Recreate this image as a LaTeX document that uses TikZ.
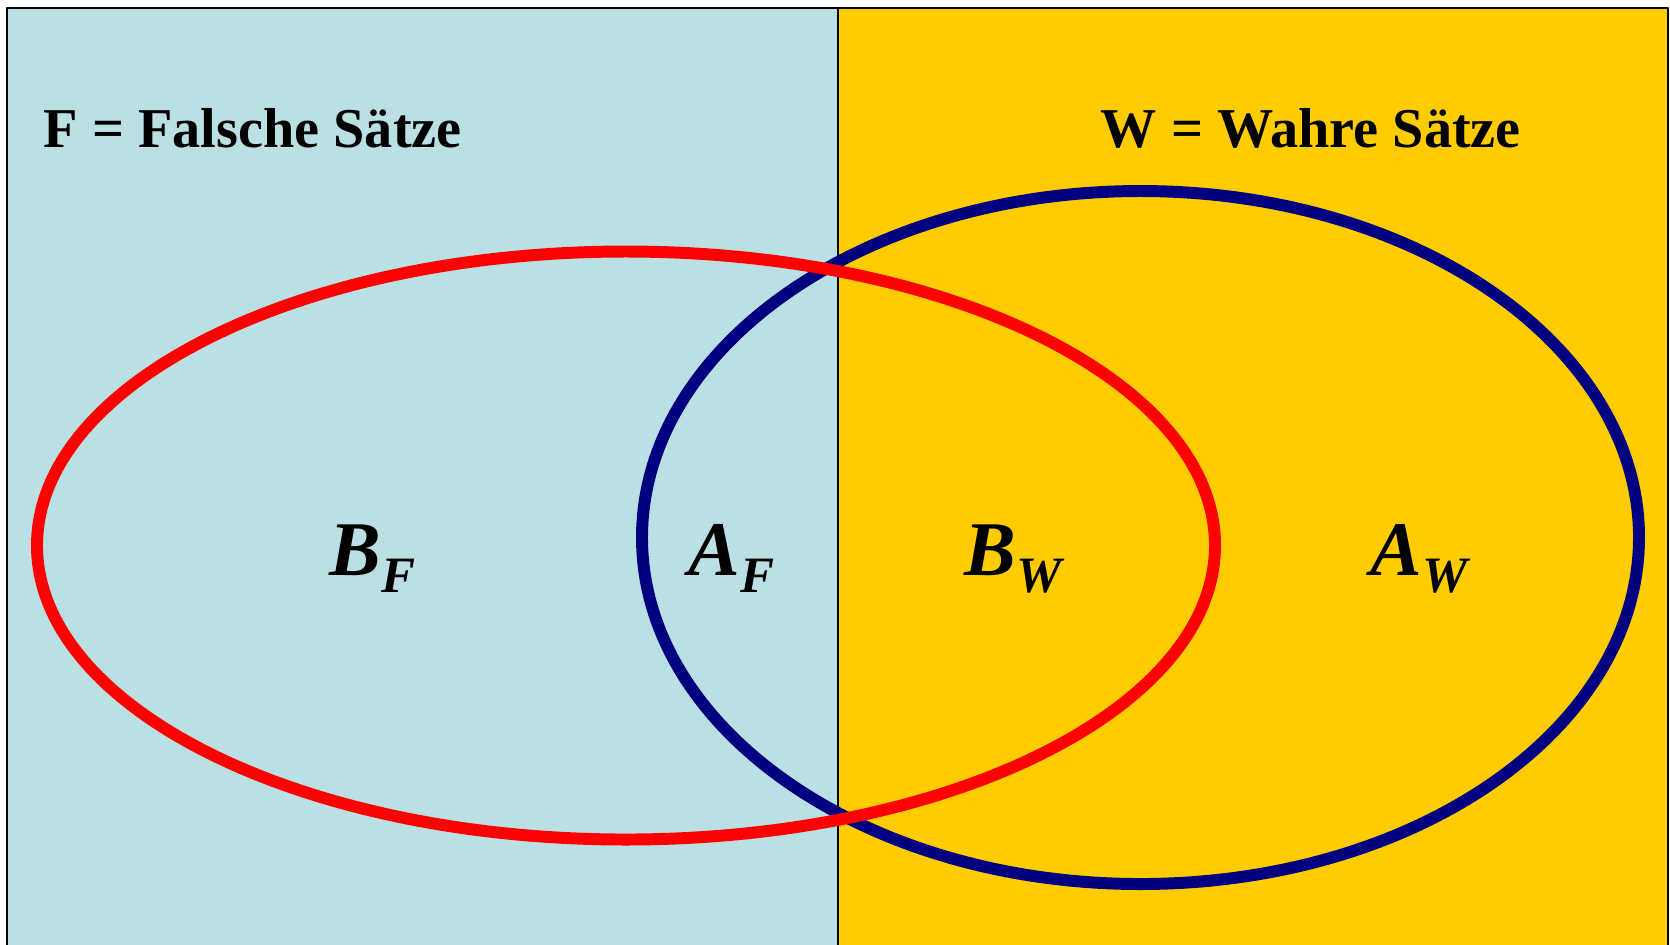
\documentclass[tikz,border=0pt]{standalone}
\usepackage{fontspec}
\setmainfont{Liberation Serif}
\definecolor{falsch}{HTML}{BBE0E3}
\definecolor{wahr}{HTML}{FFCC00}
\definecolor{navy}{HTML}{000080}
\newcommand{\menge}[2]{\textbf{\textit{#1}}\raisebox{-0.22em}{\fontsize{14.5}{15}\selectfont\textbf{\textit{#2}}}}
\begin{document}
\begin{tikzpicture}[x=0.01cm, y=-0.01cm, line join=round, line cap=round,
	titel/.style={anchor=base west, inner sep=0pt, font=\fontsize{16}{19}\selectfont\bfseries},
	lbl/.style={anchor=base west, inner sep=0pt, font=\fontsize{22}{24}\selectfont}]
	\def\W{1670} \def\H{944}
	\useasboundingbox[fill=white] (0,0) rectangle (\W,\H);
	\clip (0,0) rectangle (\W,\H);
	% the two halves
	\fill[falsch] (7,8) rectangle (838,960);
	\fill[wahr] (838,8) rectangle (1668,960);
	\draw[line width=0.6pt] (7,960)--(7,8)--(1668,8)--(1668,960);
	\draw[line width=0.6pt] (838,8)--(838,960);
	% A and B
	\draw[navy, line width=3.4pt] (1140.5,537.5) ellipse [x radius=498.5, y radius=346.5];
	\draw[red, line width=3.4pt] (626,545.5) ellipse [x radius=589, y radius=294];
	\node[titel] (falsch) at (43,147) {F = Falsche Sätze};
	\node[titel] (wahr) at (1100,147) {W = Wahre Sätze};
	\node[lbl] (bf) at (329,575) {\menge{B}{F}};
	\node[lbl] (af) at (688,575) {\menge{A}{F}};
	\node[lbl] (bw) at (964,575) {\menge{B}{W}};
	\node[lbl] (aw) at (1370,575) {\menge{A}{W}};
\end{tikzpicture}
\end{document}
